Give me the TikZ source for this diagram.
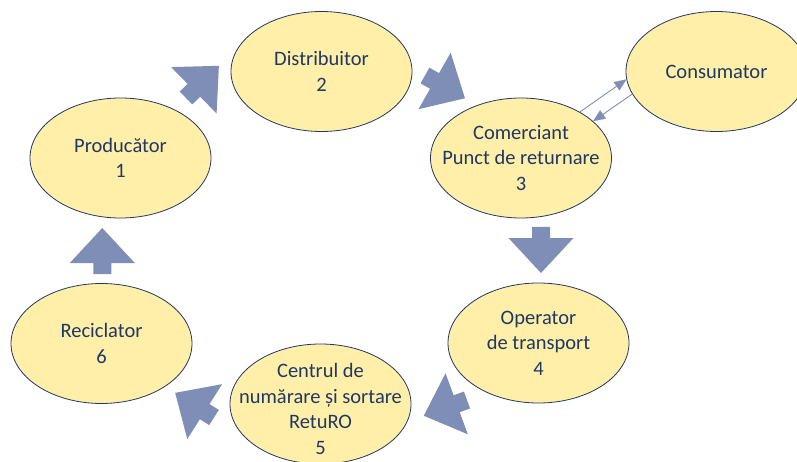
\documentclass[tikz,border=0pt]{standalone}
\usepackage{fontspec}
\setmainfont{Carlito}
\usetikzlibrary{shapes.geometric,arrows.meta}
\definecolor{ellfill}{HTML}{FFEFA8}
\definecolor{ellline}{HTML}{1F3864}
\definecolor{txtcol}{HTML}{1F3864}
\definecolor{arrcol}{HTML}{7F8EB6}
\begin{document}
\begin{tikzpicture}[x=1pt,y=1pt,
  stage/.style={ellipse, draw=ellline, line width=0.8pt, fill=ellfill,
    minimum width=181pt, minimum height=120pt, inner sep=0pt},
  stagetext/.style={align=center, text=txtcol, inner sep=0pt,
    font=\fontsize{20.5}{25.5}\selectfont},
  blockarrow/.pic={\fill[arrcol] (0,-9) -- (11,-9) -- (11,-32.5) -- (46,0) -- (11,32.5) -- (11,9) -- (0,9) -- cycle;},
  thinarrow/.style={draw=arrcol, line width=0.9pt, -{Triangle[length=12pt,width=10pt,fill=arrcol,line width=0.1pt]}}
]
\useasboundingbox (0,0) rectangle (797,461);
\clip (0,0) rectangle (797,461);
% stages
\node[stage] (prod) at (120.5,303) {};
\node[stage] (dist) at (321.5,389.5) {};
\node[stage] (com) at (521,303) {};
\node[stage] (cons) at (716.5,389.5) {};
\node[stage] (oper) at (538.5,118) {};
\node[stage] (centr) at (320.5,57) {};
\node[stage] (recic) at (101.5,117.5) {};
% texts
\node[stagetext] (prodt) at (prod) {Producător\\1};
\node[stagetext] (distt) at (dist) {Distribuitor\\2};
\node[stagetext] (comt) at (com) {Comerciant\\Punct de returnare\\3};
\node[stagetext] (const) at (cons) {Consumator};
\node[stagetext] (opert) at (oper) {Operator\\de transport\\4};
\node[stagetext] (centrt) at ([yshift=-5pt]centr.center) {Centrul de\\numărare și sortare\\RetuRO\\5};
\node[stagetext] (recict) at (recic) {Reciclator\\6};
% block arrows
\pic[rotate=44.4] at (186,363) {blockarrow};
\pic[rotate=-29.7] at (425,385.5) {blockarrow};
\pic[rotate=-90] at (541,234) {blockarrow};
\pic[rotate=200] at (467,61) {blockarrow};
\pic[rotate=147.6] at (214,43.5) {blockarrow};
\pic[rotate=90] at (102.3,187) {blockarrow};
% consumer arrows
\draw[thinarrow] (com.38) -- (cons.185);
\draw[thinarrow] (cons.195) -- (com.27);
\end{tikzpicture}
\end{document}
